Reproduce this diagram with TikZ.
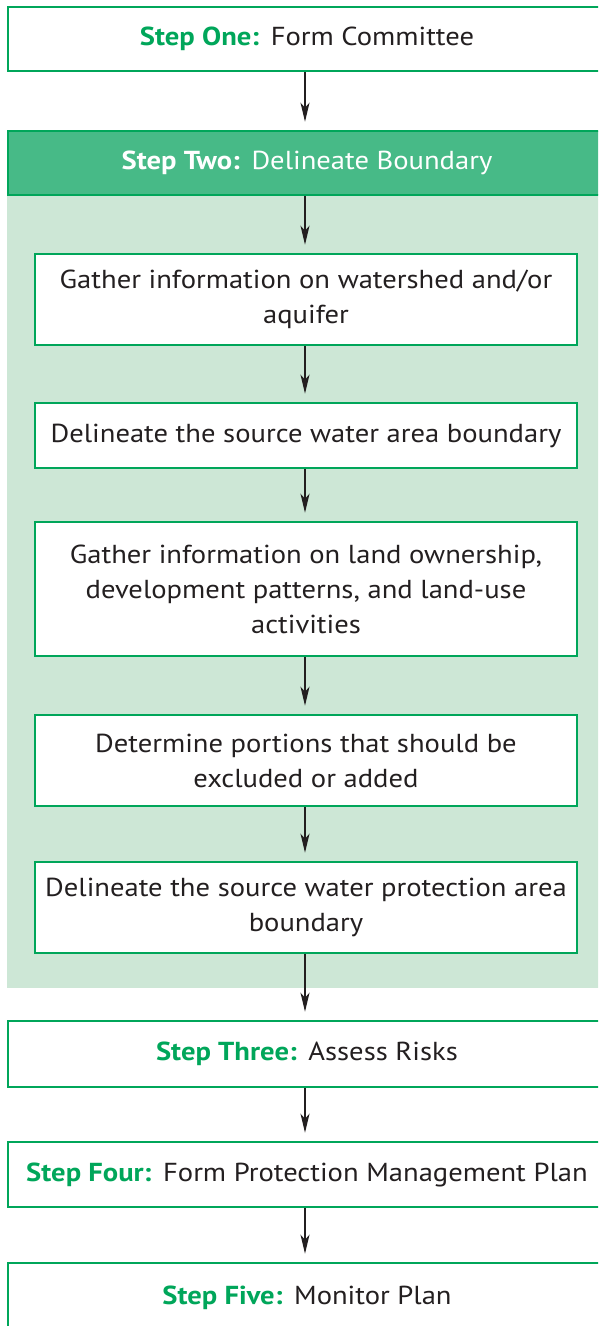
\documentclass[tikz,border=0pt]{standalone}
\usepackage{fontspec}
\setmainfont{PT Sans}[FakeStretch=1.1]
\usetikzlibrary{arrows.meta}
\definecolor{sgreen}{HTML}{00A65A}
\definecolor{hdrgreen}{HTML}{47BA87}
\definecolor{panelgreen}{HTML}{CDE7D6}
\definecolor{ink}{HTML}{231F20}
\tikzset{
  x=1pt, y=-1pt,
  stepbox/.style={draw=sgreen, line width=2.6pt, fill=white, minimum width=598pt,
    minimum height=64pt, inner sep=0pt, text=ink, font=\fontsize{26}{34}\selectfont},
  headbox/.style={stepbox, fill=hdrgreen, text=white},
  taskbox/.style={draw=sgreen, line width=2.6pt, fill=white, minimum width=542pt,
    inner sep=0pt, align=center, text=ink, font=\fontsize{26}{35}\selectfont},
  flow/.style={draw=ink, line width=1.2pt,
    -{Stealth[length=19pt,width=9pt,inset=5pt]}, shorten >=8pt},
}
\newcommand{\stepname}[1]{\textbf{\textcolor{sgreen}{#1}}\hspace{0.45em}}
\begin{document}
\begin{tikzpicture}
\path[clip] (0,0) rectangle (598,1326);
\fill[white] (0,0) rectangle (598,1326);

% shaded panel for the sub-steps of step two
\fill[panelgreen] (7,195) rectangle (620,988);

\node[stepbox] (s1) at (307,39) {\stepname{Step One:}Form Committee};
\node[headbox] (s2) at (307,163) {\textbf{Step Two:}\hspace{0.45em}Delineate Boundary};

\node[taskbox, minimum height=91pt] (t1) at (306,299.5)
  {Gather information on watershed and/or\\aquifer};
\node[taskbox, minimum height=65pt] (t2) at (306,435.5)
  {Delineate the source water area boundary};
\node[taskbox, minimum height=134pt] (t3) at (306,589)
  {Gather information on land ownership,\\development patterns, and land-use\\activities};
\node[taskbox, minimum height=91pt] (t4) at (306,760.5)
  {Determine portions that should be\\excluded or added};
\node[taskbox, minimum height=91pt] (t5) at (306,907.5)
  {Delineate the source water protection area\\boundary};

\node[stepbox, minimum height=66pt] (s3) at (307,1054) {\stepname{Step Three:}Assess Risks};
\node[stepbox, minimum height=65pt] (s4) at (307,1174.5) {\stepname{Step Four:}Form Protection Management Plan};
\node[stepbox, minimum height=70pt] (s5) at (307,1298) {\raisebox{5pt}{\stepname{Step Five:}Monitor Plan}};

\draw[flow] (s1.south -| 305,0) -- (s2.north -| 305,0);
\draw[flow] (s2.south -| 305,0) -- (t1.north -| 305,0);
\draw[flow] (t1.south -| 305,0) -- (t2.north -| 305,0);
\draw[flow] (t2.south -| 305,0) -- (t3.north -| 305,0);
\draw[flow] (t3.south -| 305,0) -- (t4.north -| 305,0);
\draw[flow] (t4.south -| 305,0) -- (t5.north -| 305,0);
\draw[flow] (t5.south -| 305,0) -- (s3.north -| 305,0);
\draw[flow] (s3.south -| 305,0) -- (s4.north -| 305,0);
\draw[flow] (s4.south -| 305,0) -- (s5.north -| 305,0);
\end{tikzpicture}
\end{document}
